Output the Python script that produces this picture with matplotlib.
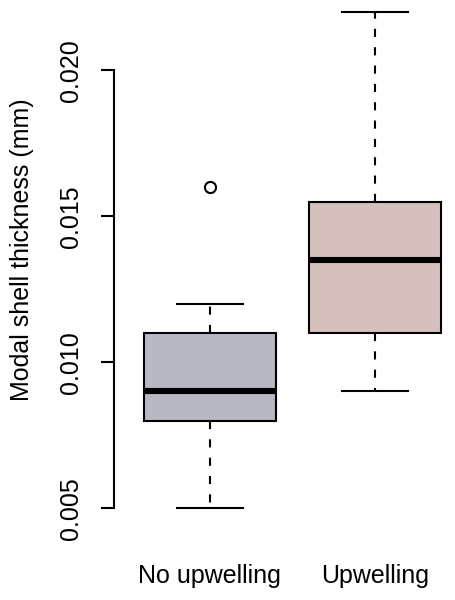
"""
Modal shell thickness boxplot, upwelling vs no upwelling
"""

import matplotlib
matplotlib.use('Agg')
import matplotlib.pyplot as plt

# Data (five-number summaries)
groups = ['No upwelling', 'Upwelling']
whisker_low = [0.005, 0.009]
q1 = [0.008, 0.011]
median = [0.009, 0.0135]
q3 = [0.011, 0.0155]
whisker_high = [0.012, 0.022]
outliers = [[0.016], []]
box_colors = ['#B8B8C4', '#D5C0BE']
yticks = [0.005, 0.010, 0.015, 0.020]
ytick_labels = ['0.005', '0.010', '0.015', '0.020']

plt.rcParams['font.family'] = ['Liberation Sans', 'DejaVu Sans']

fig = plt.figure(figsize=(4.55, 6), dpi=100)
# axes placed in pixel terms, like an R plot region
ax = fig.add_axes([114 / 455, 72 / 600, 357 / 455, 536 / 600])

stats = []
for i, name in enumerate(groups):
    stats.append({'label': name, 'whislo': whisker_low[i], 'q1': q1[i],
                  'med': median[i], 'q3': q3[i], 'whishi': whisker_high[i],
                  'fliers': outliers[i]})

lw = 1.5
bp = ax.bxp(stats, positions=[1, 2], widths=0.8, patch_artist=True,
            boxprops=dict(linewidth=lw, edgecolor='black'),
            medianprops=dict(linewidth=4.4, color='black', solid_capstyle='butt'),
            whiskerprops=dict(linewidth=lw, linestyle=(0, (3.9, 4.9)), color='black'),
            capprops=dict(linewidth=lw, color='black'),
            capwidths=0.4,
            flierprops=dict(marker='o', markersize=8, markerfacecolor='none',
                            markeredgecolor='black', markeredgewidth=lw))
for patch, c in zip(bp['boxes'], box_colors):
    patch.set_facecolor(c)

ax.set_xlim(0.42, 2.58)
ax.set_ylim(0.00432, 0.02268)

# only the y axis, R style
for side in ['top', 'right', 'bottom']:
    ax.spines[side].set_visible(False)
ax.spines['left'].set_bounds(0.005, 0.020)
ax.spines['left'].set_linewidth(lw)

ax.set_yticks(yticks)
ax.set_yticklabels(ytick_labels, rotation=90, va='center', fontsize=18)
ax.tick_params(axis='y', length=9.5, width=lw, pad=13)
ax.set_xticks([1, 2])
ax.set_xticklabels(groups, fontsize=18)
ax.tick_params(axis='x', length=0, pad=26)

fig.text(22 / 455, 1 - 250 / 600, 'Modal shell thickness (mm)', fontsize=18,
         rotation=90, ha='center', va='center')

fig.savefig('out.png', dpi=100)
